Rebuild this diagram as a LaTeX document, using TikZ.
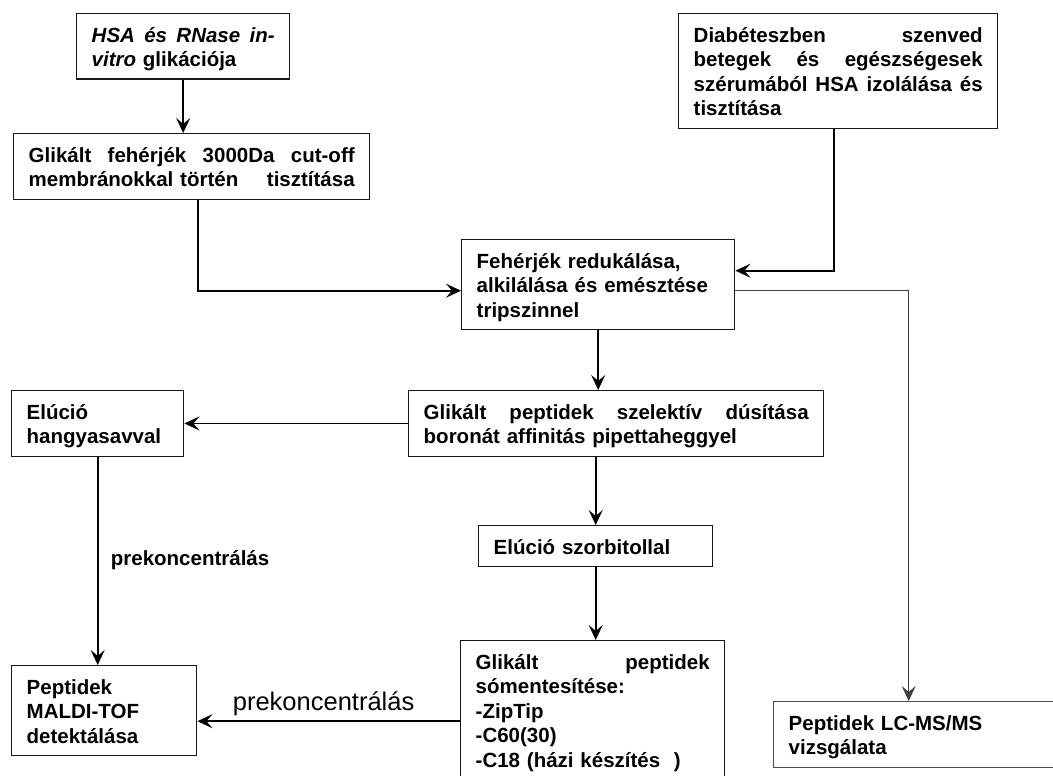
\documentclass[tikz,border=0pt]{standalone}
\usepackage{fontspec}
\setmainfont{Liberation Sans}
\usetikzlibrary{arrows.meta}

\begin{document}
\begin{tikzpicture}[x=1pt, y=-1pt,
        >={Stealth[length=15pt,width=14pt,inset=6pt]},
        box/.style={draw=black!90, line width=1.4pt, anchor=north west,
            align=left, inner xsep=15pt, inner ysep=6.5pt,
            font=\bfseries\fontsize{20.5}{24.5}\selectfont,
            execute at begin node={\rule{0pt}{22pt}},
            execute at end node={\rule[-6pt]{0pt}{6pt}}},
        vh/.style={to path={|- (\tikztotarget)}},
        hv/.style={to path={-| (\tikztotarget)}}]
        \useasboundingbox (0, 0) rectangle (1053, 776);
        \draw   [line width=1.8pt]
                (76, 13) node [box, text width=183pt] (hsa) {{\itshape HSA\hfill és\hfill RNase\hfill in-\\vitro} glikációja}
                (13, 133) node [box, text width=326pt] (glik) {Glikált\hfill fehérjék\hfill 3000Da\hfill cut-off\\membránokkal történ\hfill tisztítása}
                (678, 13) node [box, text width=289pt] (diab) {Diabéteszben\hfill szenved\\betegek\hfill és\hfill egészségesek\\szérumából\hfill HSA\hfill izolálása\hfill és\\tisztítása}
                (461, 239) node [box, text width=243pt] (fehr) {Fehérjék redukálása,\\alkilálása és emésztése\\tripszinnel}
                (408, 390) node [box, text width=385pt] (bor) {Glikált\hfill peptidek\hfill szelektív\hfill dúsítása\\boronát affinitás pipettaheggyel}
                (11, 390) node [box, text width=142pt] (elu) {Elúció\\hangyasavval}
                (478, 525) node [box, text width=204pt] (szorb) {Elúció szorbitollal}
                (460, 640) node [box, text width=234pt] (so) {Glikált\hfill peptidek\\sómentesítése:\\-ZipTip\\-C60(30)\\-C18 (házi készítés\ \ )}
                (11, 665) node [box, text width=155pt] (maldi) {Peptidek\\MALDI-TOF\\detektálása}
                (773, 701) node [box, text width=260pt, draw=black!70] (lcms) {Peptidek LC-MS/MS\\vizsgálata}
                (110, 565) node [anchor=base west, inner sep=0pt, font=\bfseries\fontsize{20.5}{24.5}\selectfont] (preA) {prekoncentrálás}
                (232, 710) node [anchor=base west, inner sep=0pt, font=\fontsize{25.5}{30}\selectfont] (preB) {prekoncentrálás}

                (hsa) edge [->] (hsa |- glik.north)
                ([xshift=6.5pt]glik.south) edge [->, vh] ([yshift=-6pt]fehr.west)
                ([xshift=-4.5pt]diab.south) edge [->, vh] ([yshift=14pt]fehr.east)
                ([yshift=-6pt]fehr.east) edge [->, hv, draw=black!75, line width=1.5pt] ([xshift=-10pt]lcms.north)
                (fehr) edge [->] (fehr |- bor.north)
                (bor) edge [->] (elu)
                (szorb |- bor.south) edge [->] (szorb)
                (szorb) edge [->] (szorb |- so.north)
                (elu) edge [->] (elu |- maldi.north)
                ([yshift=-11pt]so.west) edge [->] ([yshift=-11pt]so.west -| maldi.east)
                ;
    \end{tikzpicture}
\end{document}
